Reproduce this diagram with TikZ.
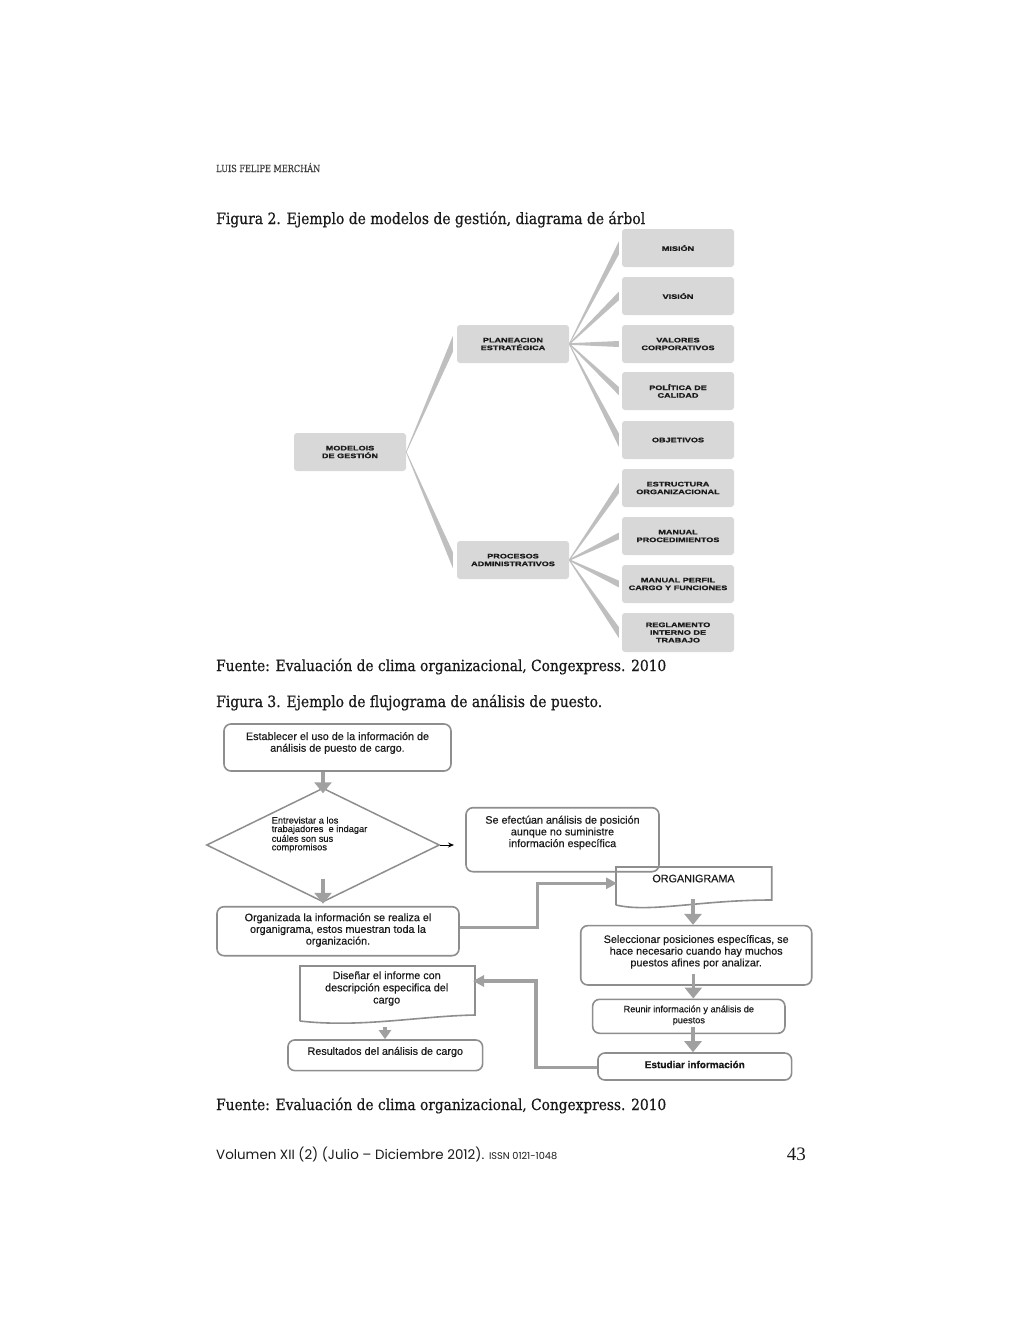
\documentclass[tikz,border=0pt]{standalone}
\usepackage{graphicx}
\usepackage{fontspec}
\setmainfont{DejaVu Serif}
\newfontfamily\capf{DejaVu Serif}[FakeBold=0.6]
\newfontfamily\arialf{Liberation Sans}[FakeBold=0.4]
\newfontfamily\widef{Liberation Sans Bold}[FakeStretch=1.4, FakeBold=1.2]
\newfontfamily\gothf{Poppins}
\newfontfamily\pagef{Liberation Serif}
\usetikzlibrary{shapes.geometric,arrows.meta,calc}
\definecolor{boxgray}{HTML}{D8D8D8}
\definecolor{wedgegray}{HTML}{BFBFBF}
\definecolor{outl}{HTML}{8E8E8E}
\definecolor{arrg}{HTML}{A0A0A0}
\definecolor{txt}{HTML}{1A1A1A}
\newcommand\wedgeconn[4]{%
  \fill[wedge] ($(#1.east)+(0,-0.8)$) -- ($(#2.west)+(-#4,-#3)$) -- ($(#2.west)+(-#4,#3)$) -- ($(#1.east)+(0,0.8)$) -- cycle;}
\tikzset{
  tbox/.style={fill=boxgray, rounded corners=3pt, minimum width=112pt, minimum height=38pt, inner sep=0pt, align=center, font=\widef\fontsize{6.5}{7.7}\selectfont, text=txt},
  wedge/.style={fill=wedgegray},
  fbox/.style={draw=outl, line width=1.6pt, rounded corners=7pt, inner sep=0pt},
  ftext/.style={font=\arialf\fontsize{10.8}{11.7}\selectfont, align=center, text=txt, inner sep=0pt},
  docline/.style={draw=outl, line width=1.6pt, line join=miter},
  farrow/.style={draw=arrg, line width=3.5pt, -{Triangle[length=11pt,width=17pt]}},
  harrow/.style={draw=arrg, line width=3.5pt, -{Triangle[length=11pt,width=11pt]}},
  captext/.style={anchor=base west, inner sep=0pt, text=txt},
}
\newcommand\captionline[2]{\scalebox{1}[1.12]{\resizebox{#1}{!}{\capf\fontsize{13}{15}\selectfont #2}}}
\begin{document}
\begin{tikzpicture}[x=1pt,y=-1pt]
\fill[white] (0,0) rectangle (1024,1325);
\useasboundingbox (0,0) rectangle (1024,1325);

% ---------- page texts ----------
\node[captext, text=black!75] (author) at (216,172) {\scalebox{1}[1.2]{\resizebox{104pt}{!}{\capf\fontsize{9}{11}\selectfont LUIS FELIPE MERCHÁN}}};
\node[captext] (cap2) at (216,224) {\captionline{429pt}{Figura 2. Ejemplo de modelos de gestión, diagrama de árbol}};
\node[captext] (src2) at (216,671) {\captionline{450pt}{Fuente: Evaluación de clima organizacional, Congexpress. 2010}};
\node[captext] (cap3) at (216,707) {\captionline{386pt}{Figura 3. Ejemplo de flujograma de análisis de puesto.}};
\node[captext] (src3) at (216,1110) {\captionline{450pt}{Fuente: Evaluación de clima organizacional, Congexpress. 2010}};
\node[captext] (foot) at (216,1159.5) {\resizebox{341pt}{!}{\gothf\fontsize{11}{13}\selectfont Volumen XII (2) (Julio – Diciembre 2012). {\fontsize{8}{10}\selectfont ISSN 0121-1048}}};
\node[anchor=base east, inner sep=0pt, text=txt] (pg) at (806,1160) {\pagef\fontsize{19}{21}\selectfont 43};

% ---------- tree ----------
\node[tbox] (mod) at (350,452) {MODELOIS\\DE GESTIÓN};
\node[tbox] (plan) at (513,344) {PLANEACION\\ESTRATÉGICA};
\node[tbox] (proc) at (513,560) {PROCESOS\\ADMINISTRATIVOS};
\node[tbox] (mis) at (678,248) {MISIÓN};
\node[tbox] (vis) at (678,296) {VISIÓN};
\node[tbox] (val) at (678,344) {VALORES\\CORPORATIVOS};
\node[tbox] (pol) at (678,391) {POLÍTICA DE\\CALIDAD};
\node[tbox] (obj) at (678,440) {OBJETIVOS};
\node[tbox] (est) at (678,488) {ESTRUCTURA\\ORGANIZACIONAL};
\node[tbox] (mproc) at (678,536) {MANUAL\\PROCEDIMIENTOS};
\node[tbox] (mperf) at (678,584) {MANUAL PERFIL\\CARGO Y FUNCIONES};
\node[tbox, minimum height=39pt] (regl) at (678,632.5) {REGLAMENTO\\INTERNO DE\\TRABAJO};

\wedgeconn{mod}{plan}{8}{4}
\wedgeconn{mod}{proc}{8}{4}
\wedgeconn{plan}{mis}{6.5}{3}
\wedgeconn{plan}{vis}{4.3}{3}
\wedgeconn{plan}{val}{3}{3}
\wedgeconn{plan}{pol}{4.1}{3}
\wedgeconn{plan}{obj}{6.7}{3}
\wedgeconn{proc}{est}{5.3}{3}
\wedgeconn{proc}{mproc}{3.4}{3}
\wedgeconn{proc}{mperf}{3.4}{3}
\wedgeconn{proc}{regl}{5.5}{3}

% ---------- flowchart ----------
\node[fbox, minimum width=227pt, minimum height=47pt] (A) at (337.5,747.5) {};
\node[ftext] (At) at (337.5,743) {Establecer el uso de la información de\\análisis de puesto de cargo.};

\node[diamond, draw=outl, line width=1.5pt, minimum width=233pt, minimum height=114pt, inner sep=0pt] (D) at (323,845) {};
\node[ftext, align=left, anchor=west, font=\arialf\fontsize{9.3}{8.5}\selectfont] (Dt) at (271.5,834.5) {Entrevistar a los\\trabajadores\ \ e indagar\\cuáles son sus\\compromisos};

\node[fbox, minimum width=193pt, minimum height=64pt] (SE) at (562.5,839.7) {};
\node[ftext] (SEt) at (562.5,832.5) {Se efectúan análisis de posición\\aunque no suministre\\información específica};

\node[fbox, minimum width=242pt, minimum height=49pt] (Org) at (338,931.2) {};
\node[ftext] (Orgt) at (338,930) {Organizada la información se realiza el\\organigrama, estos muestran toda la\\organización.};

% ORGANIGRAMA document shape
\draw[docline] (616,905) -- (616,867) -- (771.7,867) -- (771.7,900) .. controls (700,900) and (650,913) .. (616,905);
\node[ftext] (OGt) at (693.5,878.5) {ORGANIGRAMA};
\coordinate (ogw) at (617,883.3);
\coordinate (ogb) at (693,899);

\node[fbox, minimum width=231pt, minimum height=59.3pt] (Sel) at (696.2,955.3) {};
\node[ftext] (Selt) at (696.2,951.8) {Seleccionar posiciones específicas, se\\hace necesario cuando hay muchos\\puestos afines por analizar.};

\node[fbox, minimum width=192.3pt, minimum height=34pt] (Reu) at (688.8,1016.3) {};
\node[ftext, font=\arialf\fontsize{9.2}{11}\selectfont] (Reut) at (688.8,1015.3) {Reunir información y análisis de\\puestos};

\node[fbox, minimum width=193.7pt, minimum height=27pt] (Est) at (694.8,1066.5) {};
\node[ftext, font=\arialf\bfseries\fontsize{10}{12}\selectfont] (Estt) at (694.8,1064.5) {Estudiar información};

% Diseñar document shape
\draw[docline] (300,1021) -- (300,966) -- (475,966) -- (475,1015) .. controls (420,1016) and (360,1028) .. (300,1021);
\node[ftext, font=\arialf\fontsize{10.8}{12.2}\selectfont] (Dist) at (386.7,988.5) {Diseñar el informe con\\descripción especifica del\\cargo};
\coordinate (dse) at (473,981);

\node[fbox, minimum width=194.7pt, minimum height=30.7pt] (Res) at (385.3,1055.3) {};
\node[ftext] (Rest) at (385.3,1052) {Resultados del análisis de cargo};

% connectors
\coordinate (blk) at (454,845);
\draw[black, line width=0.8pt, -{Stealth[length=6pt,width=5pt]}] (D.east) -- (blk);
\draw[farrow] (A.south -| D.north) -- ($(D.north)+(0,6)$);
\draw[farrow] ($(D.south)+(0,-24)$) -- ($(D.south)+(0,1)$);
\draw[harrow] ($(Org.east)+(0,-3.5)$) -- ++(77.7,0) |- (ogw);
\draw[farrow] (ogb) -- (ogb |- Sel.north);
\coordinate (c5) at (693.3,974);
\draw[farrow] (c5) -- (c5 |- Reu.north);
\coordinate (c6) at (693,1026.7);
\draw[farrow] (c6) -- (c6 |- Est.north);
\draw[harrow] ($(Est.west)+(0,1.2)$) -- ++(-61.3,0) |- (dse);
\coordinate (c8) at (385,1027);
\draw[harrow, -{Triangle[length=9pt,width=12pt]}] (c8) -- (c8 |- Res.north);
\end{tikzpicture}
\end{document}
